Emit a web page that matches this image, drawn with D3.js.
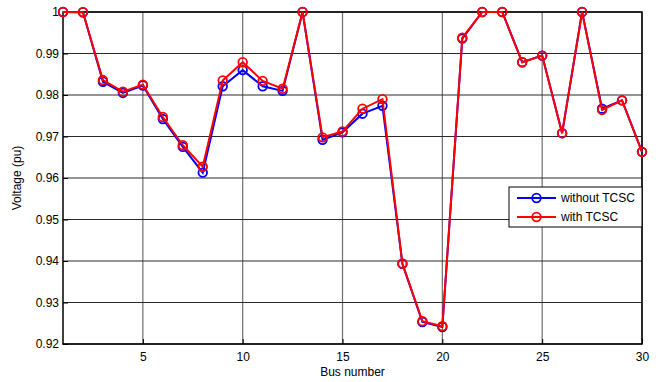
<!DOCTYPE html>
<html>
<head>
<meta charset="utf-8">
<script src="https://cdn.jsdelivr.net/npm/d3@7"></script>
<style>
  body { margin: 0; background: #fff; }
  text { font-family: "Liberation Sans", Arial, sans-serif; }
</style>
</head>
<body>
<script>
// bus numbers 1..30
var buses = [1,2,3,4,5,6,7,8,9,10,11,12,13,14,15,16,17,18,19,20,21,22,23,24,25,26,27,28,29,30];
var withoutTCSC = [1.0, 0.99995, 0.9832, 0.9805, 0.9823, 0.9742, 0.9675, 0.9613, 0.9821, 0.9860,
                   0.9821, 0.9810, 1.0, 0.9692, 0.9710, 0.9755, 0.9774, 0.9393, 0.9253, 0.9241,
                   0.9936, 1.0, 1.0, 0.9879, 0.9895, 0.9708, 1.0, 0.9767, 0.9787, 0.9663];
var withTCSC    = [1.0, 0.99995, 0.9836, 0.9808, 0.9825, 0.9747, 0.9679, 0.9627, 0.9835, 0.9879,
                   0.9834, 0.9815, 1.0, 0.9698, 0.9712, 0.9767, 0.9790, 0.9394, 0.9255, 0.9243,
                   0.9938, 1.0, 1.0, 0.9879, 0.9895, 0.9708, 1.0, 0.9764, 0.9787, 0.9663];
var xTicks = [5, 10, 15, 20, 25, 30];
var yTicks = [0.92, 0.93, 0.94, 0.95, 0.96, 0.97, 0.98, 0.99, 1];
var seriesNames = ["without TCSC", "with TCSC"];
var seriesColors = ["#0000ff", "#ff0000"];

var W = 659, H = 382;
var margin = {top: 12, right: 17, bottom: 38, left: 63},
  width = W - margin.left - margin.right,
  height = H - margin.top - margin.bottom;

var svg = d3.select("body").append("svg")
  .attr("width", W).attr("height", H)
  .append("g")
  .attr("transform", "translate(" + margin.left + "," + margin.top + ")");

var x = d3.scaleLinear().domain([1, 30]).range([0, width]);
var y = d3.scaleLinear().domain([0.92, 1]).range([height, 0]);

// grid
svg.selectAll(".vgrid").data(xTicks).enter().append("line")
  .attr("x1", function(d) { return x(d); }).attr("x2", function(d) { return x(d); })
  .attr("y1", 0).attr("y2", height)
  .attr("stroke", "#6e6e6e").attr("stroke-width", 1.2);
svg.selectAll(".hgrid").data(yTicks).enter().append("line")
  .attr("x1", 0).attr("x2", width)
  .attr("y1", function(d) { return y(d); }).attr("y2", function(d) { return y(d); })
  .attr("stroke", "#2a2a2a").attr("stroke-width", 1.1);

// axes
var xAxis = svg.append("g")
  .attr("transform", "translate(0," + height + ")")
  .call(d3.axisBottom(x).tickValues(xTicks).tickSize(-5).tickPadding(8).tickFormat(d3.format("d")));
var yAxis = svg.append("g")
  .call(d3.axisLeft(y).tickValues(yTicks).tickSize(-5).tickPadding(4)
    .tickFormat(function(d) { return d === 1 ? "1" : d3.format(".2f")(d); }));
[xAxis, yAxis].forEach(function(a) {
  a.select(".domain").remove();
  a.selectAll(".tick line").attr("stroke", "#000");
  a.selectAll("text").attr("font-size", 12).attr("fill", "#000");
});

// box
svg.append("rect").attr("width", width).attr("height", height)
  .attr("fill", "none").attr("stroke", "#000").attr("stroke-width", 1.5);

// series
var line = d3.line()
  .x(function(d, i) { return x(buses[i]); })
  .y(function(d) { return y(d); });

[withoutTCSC, withTCSC].forEach(function(vals, k) {
  svg.append("path").datum(vals)
    .attr("d", line).attr("fill", "none")
    .attr("stroke", seriesColors[k]).attr("stroke-width", 2);
  svg.selectAll(".m" + k).data(vals).enter().append("circle")
    .attr("cx", function(d, i) { return x(buses[i]); })
    .attr("cy", function(d) { return y(d); })
    .attr("r", 4.3).attr("fill", "none")
    .attr("stroke", seriesColors[k]).attr("stroke-width", 1.8);
});

// labels
svg.append("text").attr("x", width / 2).attr("y", height + 32)
  .attr("text-anchor", "middle").attr("font-size", 12).text("Bus number");
svg.append("text")
  .attr("transform", "translate(" + (-42) + "," + (height / 2) + ") rotate(-90)")
  .attr("text-anchor", "middle").attr("font-size", 12).text("Voltage (pu)");

// legend
var lg = svg.append("g").attr("transform", "translate(" + (509 - margin.left) + "," + (187 - margin.top) + ")");
lg.append("rect").attr("width", 133).attr("height", 40)
  .attr("fill", "#fff").attr("stroke", "#000").attr("stroke-width", 1);
seriesNames.forEach(function(name, k) {
  var yy = 11 + k * 19;
  lg.append("line").attr("x1", 8).attr("x2", 47).attr("y1", yy).attr("y2", yy)
    .attr("stroke", seriesColors[k]).attr("stroke-width", 2);
  lg.append("circle").attr("cx", 27.5).attr("cy", yy).attr("r", 4.3)
    .attr("fill", "none").attr("stroke", seriesColors[k]).attr("stroke-width", 1.8);
  lg.append("text").attr("x", 52).attr("y", yy + 4).attr("font-size", 12).text(name);
});
</script>
</body>
</html>
